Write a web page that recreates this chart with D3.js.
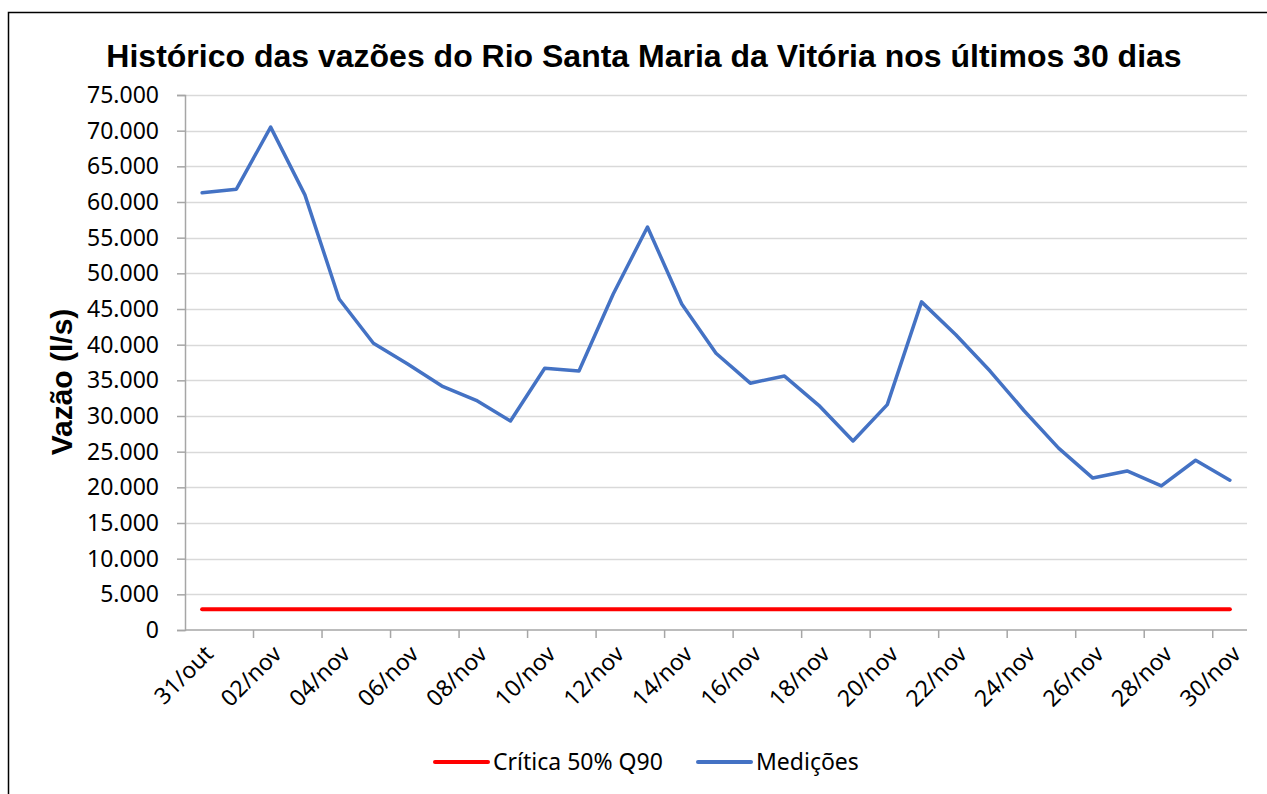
<!DOCTYPE html>
<html>
<head>
<meta charset="utf-8">
<script src="https://cdn.jsdelivr.net/npm/d3@7"></script>
<style>
  body { margin: 0; background: #fff; }
  svg { display: block; }
</style>
</head>
<body>
<div id="chart"></div>
<script>
// dias (31/out .. 30/nov)
const days = ["31/out"];
for (let d = 1; d <= 30; d++) days.push(String(d).padStart(2, "0") + "/nov");

// vazões medidas (l/s)
const medicoes = [61300, 61800, 70500, 61000, 46400, 40200, 37300, 34200, 32200, 29300,
  36700, 36300, 47100, 56500, 45700, 38800, 34600, 35600, 31500, 26500,
  31600, 46000, 41400, 36300, 30700, 25500, 21300, 22300, 20200, 23800, 21000];
const critica = days.map(() => 2900);

const yTicks = d3.range(0, 75001, 5000);

const width = 1267, height = 794,
  margin = { top: 95, right: 20, bottom: 164, left: 185 },
  plotRight = 1247;

const locale = d3.formatLocale({ decimal: ",", thousands: ".", grouping: [3], currency: ["", ""] });
const fmt = locale.format(",.0f");

const svg = d3.select("#chart").append("svg")
  .attr("width", width)
  .attr("height", height);

// chart border
svg.append("rect")
  .attr("x", 8.5).attr("y", 12.5)
  .attr("width", width + 10).attr("height", height + 10)
  .attr("fill", "none").attr("stroke", "#000").attr("stroke-width", 1.5);

const x = d3.scaleBand()
  .domain(days)
  .range([margin.left, plotRight]);

const y = d3.scaleLinear()
  .domain([0, 75000])
  .range([630, margin.top]);

// gridlines
svg.append("g")
  .selectAll("line")
  .data(yTicks.filter(d => d > 0))
  .enter().append("line")
  .attr("x1", margin.left).attr("x2", plotRight)
  .attr("y1", d => Math.round(y(d)) + 0.5).attr("y2", d => Math.round(y(d)) + 0.5)
  .attr("stroke", "#d9d9d9").attr("stroke-width", 1.5);

// y axis
const yAxis = svg.append("g")
  .attr("transform", `translate(${margin.left},0)`)
  .call(d3.axisLeft(y).tickValues(yTicks).tickFormat(d => fmt(d)).tickSize(8).tickPadding(18));
yAxis.select(".domain").attr("stroke", "#a6a6a6").attr("stroke-width", 1.5);
yAxis.selectAll(".tick line").attr("stroke", "#a6a6a6").attr("stroke-width", 1.5);
yAxis.selectAll("text")
  .attr("font-family", "'Noto Sans', sans-serif")
  .attr("font-size", 23)
  .attr("fill", "#000");

// x axis: ticks every two categories
const bw = x.bandwidth();
const xTickPos = d3.range(0, days.length + 1, 2).map(i => margin.left + i * bw);
svg.append("line")
  .attr("x1", margin.left).attr("x2", plotRight)
  .attr("y1", y(0)).attr("y2", y(0))
  .attr("stroke", "#a6a6a6").attr("stroke-width", 1.5);
svg.append("g")
  .selectAll("line")
  .data(xTickPos.filter(p => p > margin.left + 1))
  .enter().append("line")
  .attr("x1", d => d).attr("x2", d => d)
  .attr("y1", y(0)).attr("y2", y(0) + 8)
  .attr("stroke", "#a6a6a6").attr("stroke-width", 1.5);

svg.append("g")
  .selectAll("text")
  .data(days.filter((d, i) => i % 2 === 0))
  .enter().append("text")
  .attr("transform", d => `translate(${x(d) + bw / 2 + 1},${y(0) + 14}) rotate(-45)`)
  .attr("text-anchor", "end")
  .attr("dy", "0.7em")
  .attr("font-family", "'Noto Sans', sans-serif")
  .attr("font-size", 23)
  .attr("fill", "#000")
  .text(d => d);

// series
const line = d3.line()
  .x((d, i) => x(days[i]) + bw / 2)
  .y(d => y(d));

svg.append("path")
  .datum(critica)
  .attr("d", line)
  .attr("fill", "none")
  .attr("stroke", "#ff0000")
  .attr("stroke-width", 4)
  .attr("stroke-linecap", "round");

svg.append("path")
  .datum(medicoes)
  .attr("d", line)
  .attr("fill", "none")
  .attr("stroke", "#4472c4")
  .attr("stroke-width", 3.5)
  .attr("stroke-linejoin", "round")
  .attr("stroke-linecap", "round");

// title
svg.append("text")
  .attr("x", 644).attr("y", 67)
  .attr("text-anchor", "middle")
  .attr("font-family", "'Liberation Sans', Arial, sans-serif")
  .attr("font-weight", "bold")
  .attr("font-size", 32)
  .attr("fill", "#000")
  .text("Histórico das vazões do Rio Santa Maria da Vitória nos últimos 30 dias");

// y label
svg.append("text")
  .attr("transform", `translate(72,382) rotate(-90)`)
  .attr("text-anchor", "middle")
  .attr("font-family", "'Liberation Sans', Arial, sans-serif")
  .attr("font-weight", "bold")
  .attr("font-size", 30)
  .attr("fill", "#000")
  .text("Vazão (l/s)");

// legend
const legend = [
  { name: "Crítica 50% Q90", color: "#ff0000", x: 435 },
  { name: "Medições", color: "#4472c4", x: 698 }
];
const lg = svg.append("g").selectAll("g")
  .data(legend)
  .enter().append("g")
  .attr("transform", d => `translate(${d.x},762)`);
lg.append("line")
  .attr("x1", 0).attr("x2", 53)
  .attr("stroke", d => d.color)
  .attr("stroke-width", 4)
  .attr("stroke-linecap", "round");
lg.append("text")
  .attr("x", 58)
  .attr("dy", "0.35em")
  .attr("font-family", "'Noto Sans', sans-serif")
  .attr("font-size", 23)
  .attr("fill", "#000")
  .text(d => d.name);
</script>
</body>
</html>
